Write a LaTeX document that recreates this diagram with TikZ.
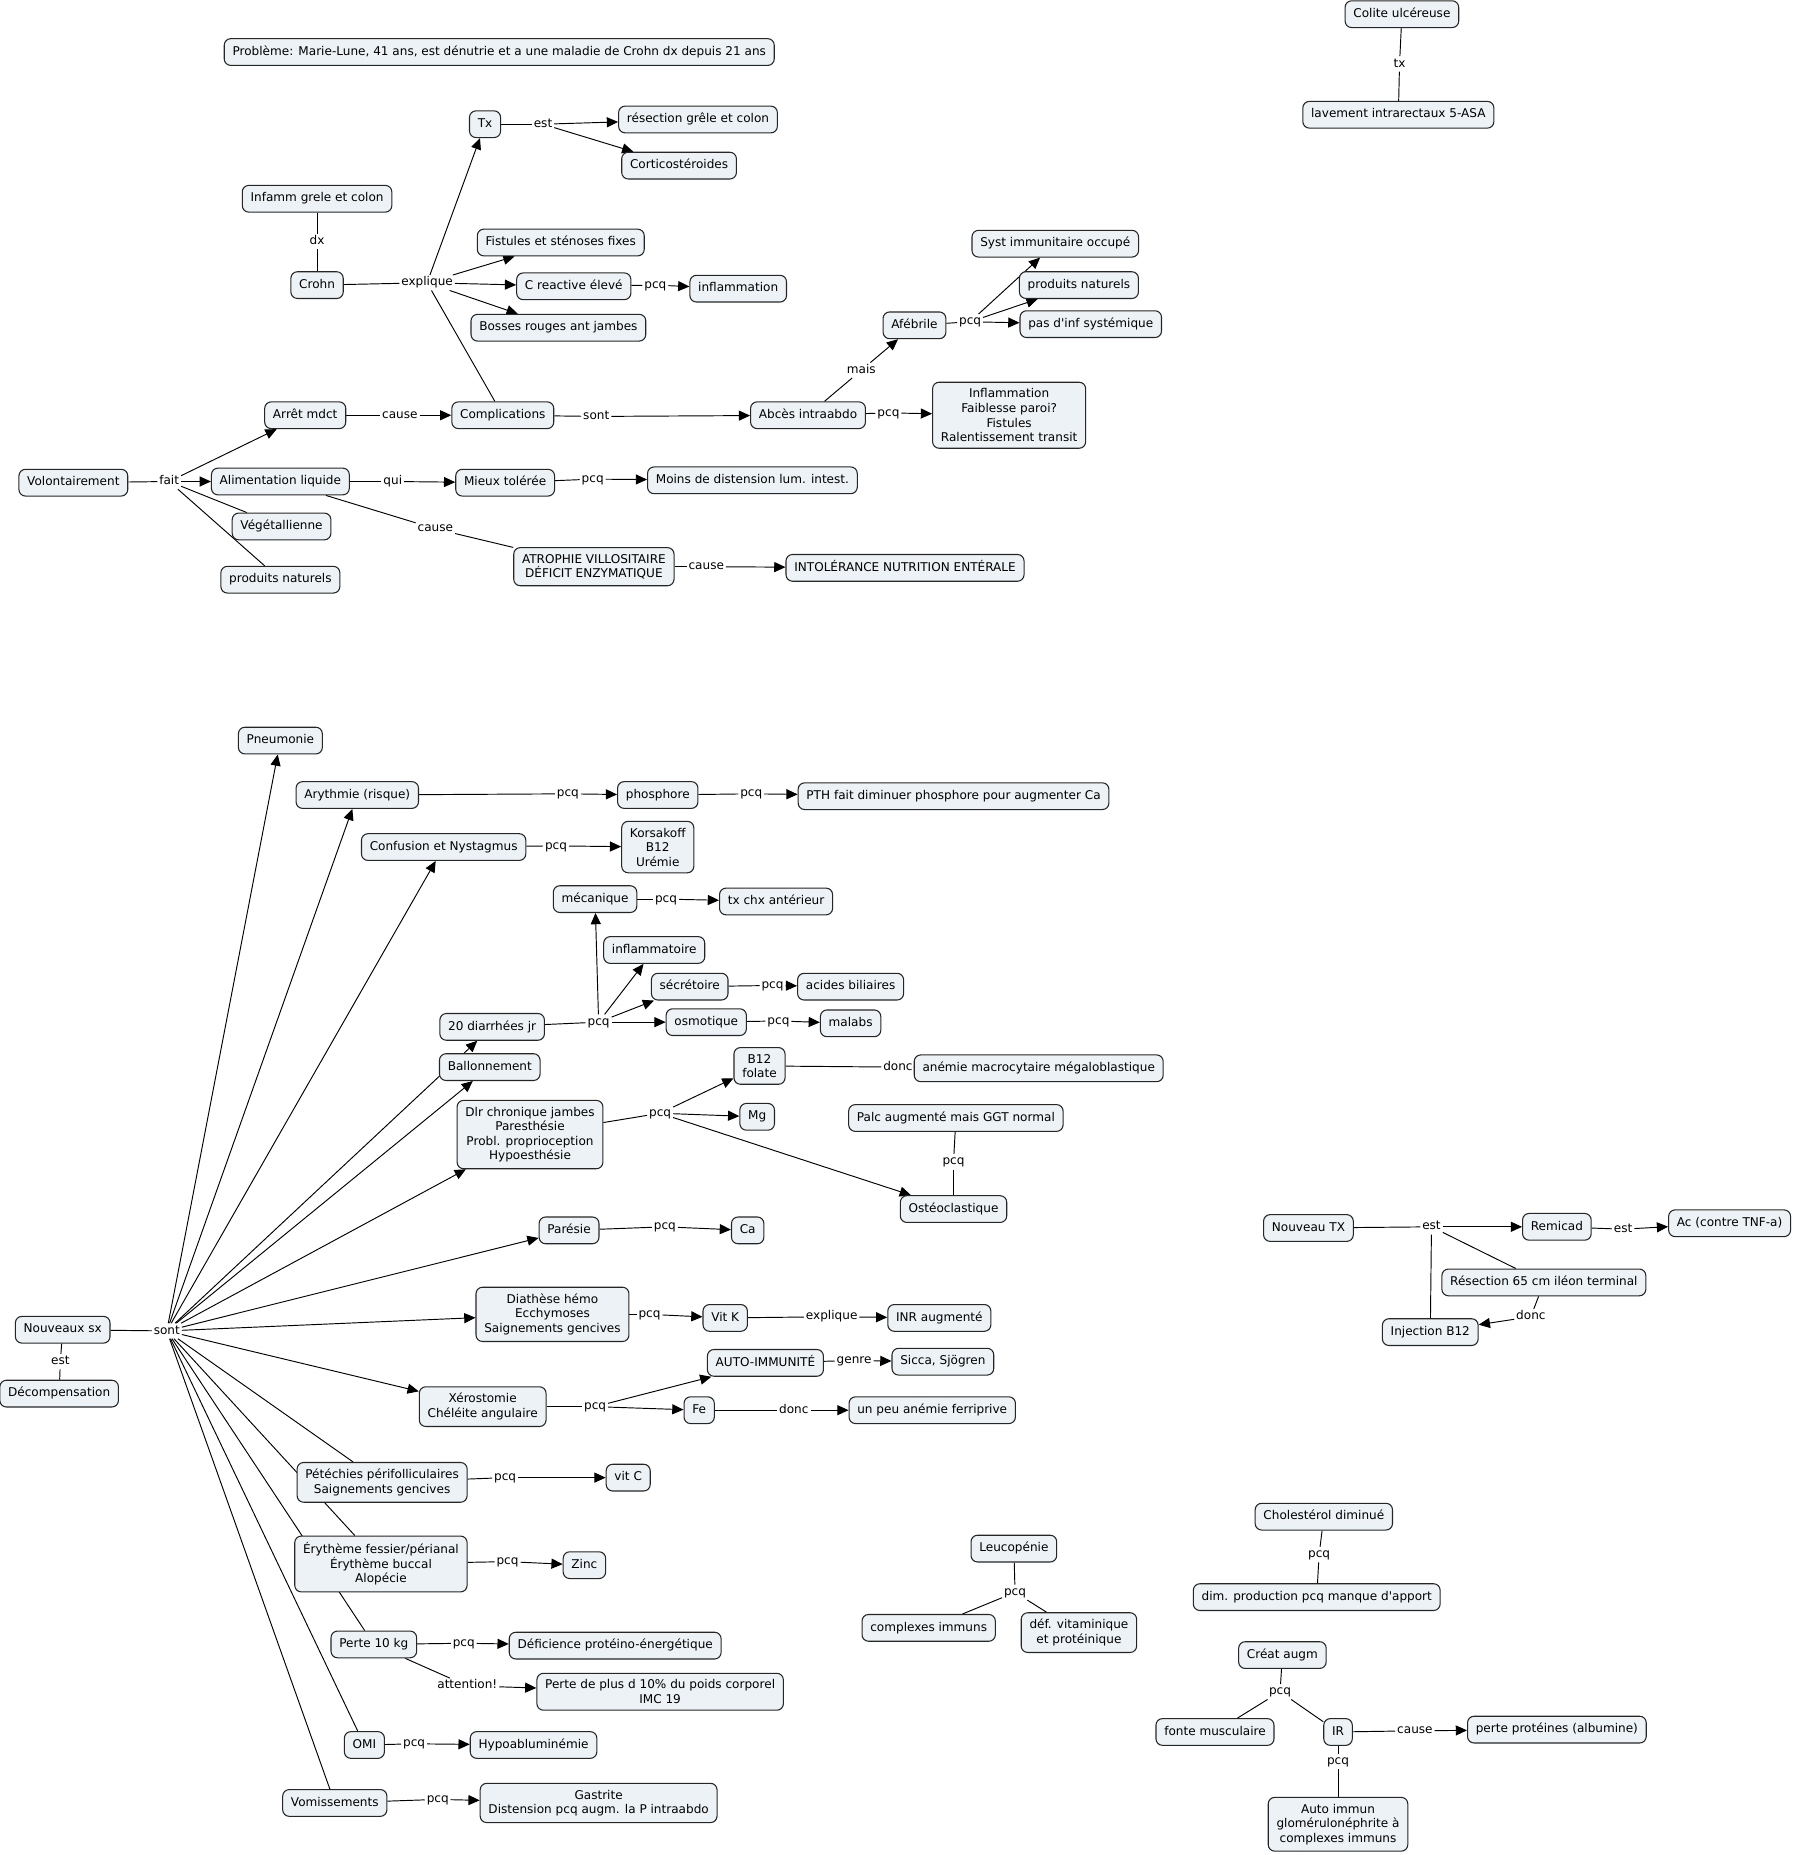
\documentclass[tikz,border=0pt]{standalone}
\usepackage{fontspec}
\setmainfont{DejaVu Sans}[Ligatures=TeXOff]
\usetikzlibrary{arrows.meta,backgrounds}
\definecolor{cfill}{RGB}{236,242,245}
\begin{document}
\begin{tikzpicture}[x=1pt,y=-1pt,
  font=\fontsize{10.2}{12.3}\selectfont,
  cpt/.style={draw=black!85,fill=cfill,rounded corners=5.5pt,line width=0.9pt,inner xsep=7pt,inner ysep=6pt,text height=8pt,text depth=2.6pt},
  cptm/.style={draw=black!85,fill=cfill,rounded corners=5.5pt,line width=0.9pt,inner xsep=7pt,inner ysep=5.5pt,align=center},
  lbl/.style={inner sep=1.5pt,text height=7.5pt,text depth=2.2pt},
  ln/.style={line width=0.8pt},
  ar/.style={line width=0.8pt,-{Triangle[length=9.5pt,width=8.5pt]}}]
\useasboundingbox (0,0) rectangle (1516,1568);
% ---------- top part ----------
\node[cpt] (prob) at (422,44) {Problème: Marie-Lune, 41 ans, est dénutrie et a une maladie de Crohn dx depuis 21 ans};
\node[cpt] (colite) at (1185,12) {Colite ulcéreuse};
\node[lbl] (ltx) at (1183,54) {tx};
\node[cpt] (lav) at (1182,97) {lavement intrarectaux 5-ASA};
\node[cpt] (tx) at (410,105) {Tx};
\node[lbl] (lest1) at (459,105) {est};
\node[cpt] (resec) at (590,101) {résection grêle et colon};
\node[cpt] (cortico) at (574,140) {Corticostéroides};
\node[cpt] (infamm) at (268,168) {Infamm grele et colon};
\node[lbl] (ldx) at (268,204) {dx};
\node[cpt] (crohn) at (268,241) {Crohn};
\node[lbl] (lexpl) at (361,239) {explique};
\node[cpt] (fist) at (474,205) {Fistules et sténoses fixes};
\node[cpt] (crp) at (485,242) {C reactive élevé};
\node[lbl] (lpcq1) at (554,241) {pcq};
\node[cpt] (inflam) at (624,244) {inflammation};
\node[cpt] (bosses) at (472,277) {Bosses rouges ant jambes};
\node[cpt] (syst) at (892,206) {Syst immunitaire occupé};
\node[cpt] (prodnat1) at (912,241) {produits naturels};
\node[cpt] (pasinf) at (922,274) {pas d'inf systémique};
\node[cpt] (afeb) at (773,275) {Afébrile};
\node[lbl] (lpcq2) at (820,272) {pcq};
\node[lbl] (lmais) at (728,313) {mais};
\node[cpt] (arret) at (258,351) {Arrêt mdct};
\node[lbl] (lcause1) at (338,351) {cause};
\node[cpt] (compl) at (425,351) {Complications};
\node[lbl] (lsont1) at (504,352) {sont};
\node[cpt] (abces) at (683,351) {Abcès intraabdo};
\node[lbl] (lpcq3) at (751,349) {pcq};
\node[cptm] (infl4) at (853,351) {Inflammation\\Faiblesse paroi?\\Fistules\\Ralentissement transit};
\node[cpt] (volont) at (62,408) {Volontairement};
\node[lbl] (lfait) at (143,407) {fait};
\node[cpt] (alim) at (237,407) {Alimentation liquide};
\node[lbl] (lqui) at (332,407) {qui};
\node[cpt] (mieux) at (427,408) {Mieux tolérée};
\node[lbl] (lpcq4) at (501,405) {pcq};
\node[cpt] (moins) at (636,406) {Moins de distension lum. intest.};
\node[cpt] (vege) at (238,445) {Végétallienne};
\node[lbl] (lcause2) at (368,447) {cause};
\node[cpt] (prodnat2) at (237,490) {produits naturels};
\node[cptm] (atrophie) at (502,479) {ATROPHIE VILLOSITAIRE\\DÉFICIT ENZYMATIQUE};
\node[lbl] (lcause3) at (597,479) {cause};
\node[cpt] (intol) at (765,480) {INTOLÉRANCE NUTRITION ENTÉRALE};
% ---------- lower part ----------
\node[cpt] (pneu) at (237,626) {Pneumonie};
\node[cpt] (aryth) at (302,672) {Arythmie (risque)};
\node[lbl] (lpcq5) at (480,671) {pcq};
\node[cpt] (phos) at (556,672) {phosphore};
\node[lbl] (lpcq6) at (635,671) {pcq};
\node[cpt] (pth) at (806,673) {PTH fait diminuer phosphore pour augmenter Ca};
\node[cpt] (conf) at (375,716) {Confusion et Nystagmus};
\node[lbl] (lpcq7) at (470,715) {pcq};
\node[cptm] (korsa) at (556,716) {Korsakoff\\B12\\Urémie};
\node[cpt] (meca) at (503,760) {mécanique};
\node[lbl] (lpcq8) at (563,760) {pcq};
\node[cpt] (txchx) at (656,762) {tx chx antérieur};
\node[cpt] (inflamt) at (553,803) {inflammatoire};
\node[cpt] (secr) at (583,834) {sécrétoire};
\node[lbl] (lpcq9) at (653,833) {pcq};
\node[cpt] (acides) at (719,834) {acides biliaires};
\node[cpt] (osmo) at (597,864) {osmotique};
\node[lbl] (lpcq10) at (658,863) {pcq};
\node[cpt] (malabs) at (719,865) {malabs};
\node[cpt] (diarr) at (416,868) {20 diarrhées jr};
\node[lbl] (lpcq11) at (506,864) {pcq};
\node[cpt] (ballon) at (414,902) {Ballonnement};
\node[cptm] (b12) at (642,901) {B12\\folate};
\node[lbl] (ldonc1) at (759,902) {donc};
\node[cpt] (anemie) at (878,903) {anémie macrocytaire mégaloblastique};
\node[cptm] (dlr) at (448,959) {Dlr chronique jambes\\Paresthésie\\Probl. proprioception\\Hypoesthésie};
\node[lbl] (lpcq12) at (558,941) {pcq};
\node[cpt] (mg) at (640,944) {Mg};
\node[cpt] (palc) at (808,945) {Palc augmenté mais GGT normal};
\node[lbl] (lpcq13) at (806,982) {pcq};
\node[cpt] (osteo) at (806,1022) {Ostéoclastique};
\node[cpt] (paresie) at (481,1040) {Parésie};
\node[lbl] (lpcq14) at (562,1037) {pcq};
\node[cpt] (ca) at (632,1040) {Ca};
\node[cptm] (diath) at (467,1111) {Diathèse hémo\\Ecchymoses\\Saignements gencives};
\node[lbl] (lpcq15) at (549,1111) {pcq};
\node[cpt] (vitk) at (613,1114) {Vit K};
\node[lbl] (lexpl2) at (703,1113) {explique};
\node[cpt] (inr) at (794,1114) {INR augmenté};
\node[cpt] (auto) at (647,1152) {AUTO-IMMUNITÉ};
\node[lbl] (lgenre) at (722,1150) {genre};
\node[cpt] (sicca) at (797,1151) {Sicca, Sjögren};
\node[cptm] (xero) at (408,1189) {Xérostomie\\Chéléite angulaire};
\node[lbl] (lpcq16) at (503,1189) {pcq};
\node[cpt] (fe) at (591,1192) {Fe};
\node[lbl] (ldonc2) at (671,1192) {donc};
\node[cpt] (ferri) at (788,1192) {un peu anémie ferriprive};
\node[cpt] (nsx) at (53,1124) {Nouveaux sx};
\node[lbl] (lsont2) at (141,1125) {sont};
\node[lbl] (lest2) at (51,1151) {est};
\node[cpt] (decomp) at (50,1178) {Décompensation};
\node[cptm] (petech) at (323,1253) {Pétéchies périfolliculaires\\Saignements gencives};
\node[lbl] (lpcq17) at (427,1249) {pcq};
\node[cpt] (vitc) at (531,1249) {vit C};
\node[cptm] (eryth) at (322,1322) {Érythème fessier/périanal\\Érythème buccal\\Alopécie};
\node[lbl] (lpcq18) at (429,1320) {pcq};
\node[cpt] (zinc) at (494,1323) {Zinc};
\node[cpt] (perte) at (316,1390) {Perte 10 kg};
\node[lbl] (lpcq19) at (392,1389) {pcq};
\node[cpt] (defic) at (520,1391) {Déficience protéino-énergétique};
\node[lbl] (latt) at (395,1425) {attention!};
\node[cptm] (perteplus) at (558,1430) {Perte de plus d 10\% du poids corporel\\IMC 19};
\node[cpt] (omi) at (308,1475) {OMI};
\node[lbl] (lpcq20) at (350,1474) {pcq};
\node[cpt] (hypo) at (451,1475) {Hypoabluminémie};
\node[cpt] (vomi) at (283,1524) {Vomissements};
\node[lbl] (lpcq21) at (370,1521) {pcq};
\node[cptm] (gastr) at (506,1524) {Gastrite\\Distension pcq augm. la P intraabdo};
% ---------- right part ----------
\node[cpt] (ntx) at (1106,1038) {Nouveau TX};
\node[lbl] (lest3) at (1210,1037) {est};
\node[cpt] (remic) at (1316,1037) {Remicad};
\node[lbl] (lest4) at (1372,1039) {est};
\node[cpt] (ac) at (1462,1034) {Ac (contre TNF-a)};
\node[cpt] (resec65) at (1305,1084) {Résection 65 cm iléon terminal};
\node[lbl] (ldonc3) at (1294,1113) {donc};
\node[cpt] (inj) at (1209,1126) {Injection B12};
\node[cpt] (chol) at (1119,1282) {Cholestérol diminué};
\node[lbl] (lpcq22) at (1115,1314) {pcq};
\node[cpt] (dimprod) at (1113,1350) {dim. production pcq manque d'apport};
\node[cpt] (leuco) at (857,1309) {Leucopénie};
\node[lbl] (lpcq23) at (858,1346) {pcq};
\node[cpt] (cplx) at (785,1376) {complexes immuns};
\node[cptm] (defvit) at (912,1380) {déf. vitaminique\\et protéinique};
\node[cpt] (creat) at (1084,1399) {Créat augm};
\node[lbl] (lpcq24) at (1082,1430) {pcq};
\node[cpt] (fonte) at (1027,1464) {fonte musculaire};
\node[cpt] (ir) at (1131,1464) {IR};
\node[lbl] (lcause4) at (1196,1463) {cause};
\node[cpt] (perteprot) at (1316,1462) {perte protéines (albumine)};
\node[lbl] (lpcq25) at (1131,1489) {pcq};
\node[cptm] (autoimm) at (1131,1542) {Auto immun\\glomérulonéphrite à\\complexes immuns};
% ---------- connectors ----------
\begin{scope}[on background layer]
\fill[white] (0,0) rectangle (1516,1568);
\draw[ln] (colite) -- (ltx); \draw[ln] (ltx) -- (lav);
\draw[ln] (tx) -- (lest1); \draw[ar] (lest1) -- (resec); \draw[ar] (lest1) -- (cortico);
\draw[ln] (infamm) -- (ldx); \draw[ln] (ldx) -- (crohn);
\draw[ln] (crohn) -- (lexpl);
\draw[ar] (lexpl) -- (tx); \draw[ar] (lexpl) -- (fist); \draw[ar] (lexpl) -- (crp); \draw[ar] (lexpl) -- (bosses);
\draw[ln] (lexpl) -- (compl);
\draw[ln] (crp) -- (lpcq1); \draw[ar] (lpcq1) -- (inflam);
\draw[ln] (afeb) -- (lpcq2); \draw[ar] (lpcq2) -- (syst); \draw[ar] (lpcq2) -- (prodnat1); \draw[ar] (lpcq2) -- (pasinf);
\draw[ln] (abces) -- (lmais); \draw[ar] (lmais) -- (afeb);
\draw[ln] (abces) -- (lpcq3); \draw[ar] (lpcq3) -- (infl4);
\draw[ln] (arret) -- (lcause1); \draw[ar] (lcause1) -- (compl);
\draw[ln] (compl) -- (lsont1); \draw[ar] (lsont1) -- (abces);
\draw[ln] (volont) -- (lfait); \draw[ar] (lfait) -- (arret); \draw[ar] (lfait) -- (alim);
\draw[ln] (lfait) -- (vege); \draw[ln] (lfait) -- (prodnat2);
\draw[ln] (alim) -- (lqui); \draw[ar] (lqui) -- (mieux);
\draw[ln] (mieux) -- (lpcq4); \draw[ar] (lpcq4) -- (moins);
\draw[ln] (alim) -- (lcause2); \draw[ln] (lcause2) -- (atrophie);
\draw[ln] (atrophie) -- (lcause3); \draw[ar] (lcause3) -- (intol);
% lower
\draw[ln] (nsx) -- (lsont2);
\foreach \t in {pneu,aryth,conf,diarr,ballon,dlr,paresie,diath,xero} {\draw[ar] (lsont2) -- (\t);}
\foreach \t in {petech,eryth,perte,omi,vomi} {\draw[ln] (lsont2) -- (\t);}
\draw[ln] (nsx) -- (lest2); \draw[ln] (lest2) -- (decomp);
\draw[ln] (aryth) -- (lpcq5); \draw[ar] (lpcq5) -- (phos);
\draw[ln] (phos) -- (lpcq6); \draw[ar] (lpcq6) -- (pth);
\draw[ln] (conf) -- (lpcq7); \draw[ar] (lpcq7) -- (korsa);
\draw[ln] (diarr) -- (lpcq11);
\foreach \t in {meca,inflamt,secr,osmo} {\draw[ar] (lpcq11) -- (\t);}
\draw[ln] (meca) -- (lpcq8); \draw[ar] (lpcq8) -- (txchx);
\draw[ln] (secr) -- (lpcq9); \draw[ar] (lpcq9) -- (acides);
\draw[ln] (osmo) -- (lpcq10); \draw[ar] (lpcq10) -- (malabs);
\draw[ln] (dlr) -- (lpcq12);
\foreach \t in {b12,mg,osteo} {\draw[ar] (lpcq12) -- (\t);}
\draw[ln] (b12) -- (ldonc1); \draw[ln] (ldonc1) -- (anemie);
\draw[ln] (palc) -- (lpcq13); \draw[ln] (lpcq13) -- (osteo);
\draw[ln] (paresie) -- (lpcq14); \draw[ar] (lpcq14) -- (ca);
\draw[ln] (diath) -- (lpcq15); \draw[ar] (lpcq15) -- (vitk);
\draw[ln] (vitk) -- (lexpl2); \draw[ar] (lexpl2) -- (inr);
\draw[ln] (xero) -- (lpcq16); \draw[ar] (lpcq16) -- (auto); \draw[ar] (lpcq16) -- (fe);
\draw[ln] (auto) -- (lgenre); \draw[ar] (lgenre) -- (sicca);
\draw[ln] (fe) -- (ldonc2); \draw[ar] (ldonc2) -- (ferri);
\draw[ln] (petech) -- (lpcq17); \draw[ar] (lpcq17) -- (vitc);
\draw[ln] (eryth) -- (lpcq18); \draw[ar] (lpcq18) -- (zinc);
\draw[ln] (perte) -- (lpcq19); \draw[ar] (lpcq19) -- (defic);
\draw[ln] (perte) -- (latt); \draw[ar] (latt) -- (perteplus);
\draw[ln] (omi) -- (lpcq20); \draw[ar] (lpcq20) -- (hypo);
\draw[ln] (vomi) -- (lpcq21); \draw[ar] (lpcq21) -- (gastr);
% right
\draw[ln] (ntx) -- (lest3); \draw[ar] (lest3) -- (remic);
\draw[ln] (lest3) -- (resec65); \draw[ln] (lest3) -- (inj);
\draw[ln] (remic) -- (lest4); \draw[ar] (lest4) -- (ac);
\draw[ln] (resec65) -- (ldonc3); \draw[ar] (ldonc3) -- (inj);
\draw[ln] (chol) -- (lpcq22); \draw[ln] (lpcq22) -- (dimprod);
\draw[ln] (leuco) -- (lpcq23); \draw[ln] (lpcq23) -- (cplx); \draw[ln] (lpcq23) -- (defvit);
\draw[ln] (creat) -- (lpcq24); \draw[ln] (lpcq24) -- (fonte); \draw[ln] (lpcq24) -- (ir);
\draw[ln] (ir) -- (lcause4); \draw[ar] (lcause4) -- (perteprot);
\draw[ln] (ir) -- (lpcq25); \draw[ln] (lpcq25) -- (autoimm);
\end{scope}
\end{tikzpicture}
\end{document}
